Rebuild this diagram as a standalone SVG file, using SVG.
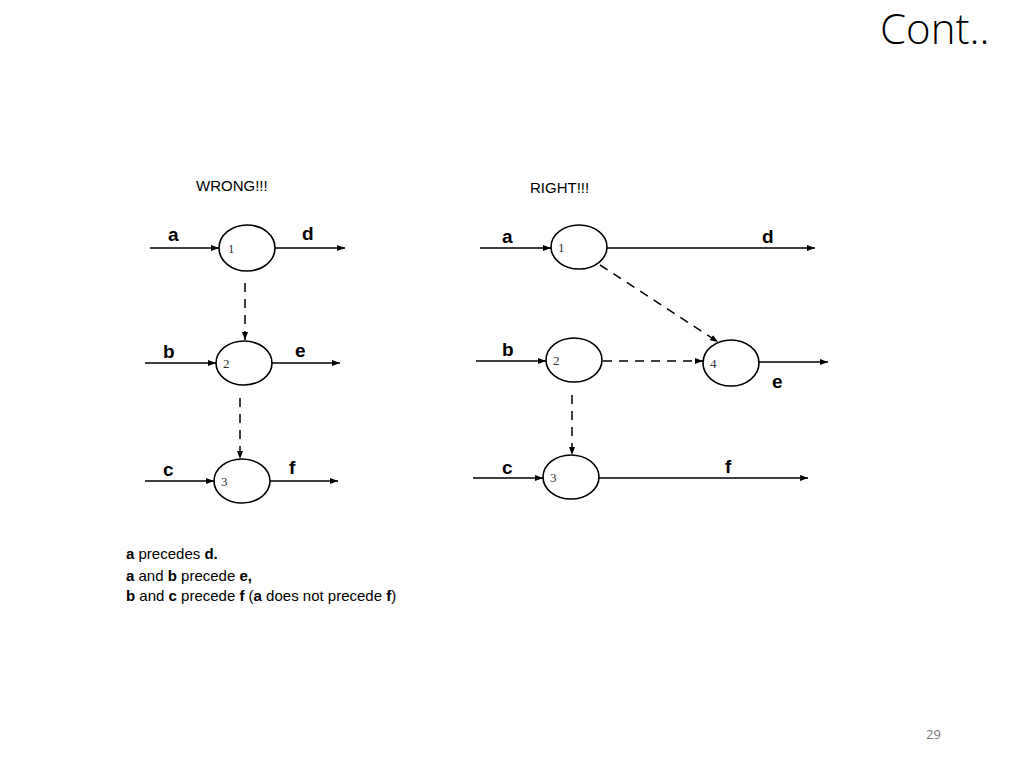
<svg xmlns="http://www.w3.org/2000/svg" width="1024" height="768" viewBox="0 0 1024 768">
<defs>
<marker id="ah" markerWidth="8" markerHeight="6" refX="8" refY="3" orient="auto" markerUnits="userSpaceOnUse"><path d="M0,0 L8,3 L0,6 Z" fill="#000"/></marker>
<style>
.n{fill:#fff;stroke:#000;stroke-width:1.6}
.num{font-family:"Liberation Serif",serif;font-size:13px;fill:#333}
.lbl{font-family:"Liberation Sans",Arial,sans-serif;font-weight:bold;font-size:19px;fill:#000}
.t{font-family:"Liberation Sans",Arial,sans-serif;font-size:15px;fill:#000}
.s{stroke:#000;stroke-width:1.5;fill:none;marker-end:url(#ah)}
.d{stroke:#000;stroke-width:1.5;fill:none;stroke-dasharray:9,7;marker-end:url(#ah)}
</style>
</defs>
<rect width="1024" height="768" fill="#fff"/>
<text x="880" y="44" font-family="'Open Sans','Noto Sans',sans-serif" font-size="42" font-weight="300" fill="#000">Cont..</text>
<text x="926" y="739" font-family="'Open Sans','Noto Sans',sans-serif" font-size="13" fill="#777">29</text>
<text x="196" y="191" class="t">WRONG!!!</text>
<text x="530" y="193" class="t">RIGHT!!!</text>
<g id="connectors">
<line class="s" x1="150" y1="248" x2="219" y2="248"/>
<line class="s" x1="275" y1="248" x2="345" y2="248"/>
<line class="s" x1="145" y1="363" x2="216" y2="363"/>
<line class="s" x1="272" y1="363" x2="340" y2="363"/>
<line class="s" x1="145" y1="481" x2="214" y2="481"/>
<line class="s" x1="270" y1="481" x2="338" y2="481"/>
<line class="d" x1="245" y1="283" x2="245" y2="340"/>
<line class="d" x1="240" y1="398" x2="240" y2="459"/>
<line class="s" x1="480" y1="248" x2="551" y2="248"/>
<line class="s" x1="607" y1="248" x2="815" y2="248"/>
<line class="s" x1="476" y1="361" x2="546" y2="361"/>
<line class="d" x1="603" y1="361" x2="703" y2="361"/>
<line class="d" x1="600" y1="265" x2="718" y2="342"/>
<line class="s" x1="759" y1="362" x2="828" y2="362"/>
<line class="s" x1="473" y1="478" x2="543" y2="478"/>
<line class="s" x1="599" y1="478" x2="808" y2="478"/>
<line class="d" x1="572" y1="395" x2="572" y2="455"/>
</g>
<g id="w1"><ellipse class="n" cx="247" cy="248" rx="28" ry="23"/><text class="num" x="228" y="253">1</text></g>
<g id="w2"><ellipse class="n" cx="244" cy="363" rx="28" ry="22"/><text class="num" x="223" y="368">2</text></g>
<g id="w3"><ellipse class="n" cx="242" cy="481" rx="28" ry="22"/><text class="num" x="221" y="486">3</text></g>
<g id="r1"><ellipse class="n" cx="579" cy="247" rx="28" ry="22"/><text class="num" x="558" y="252">1</text></g>
<g id="r2"><ellipse class="n" cx="574" cy="360" rx="28" ry="22"/><text class="num" x="553" y="365">2</text></g>
<g id="r4"><ellipse class="n" cx="731" cy="363" rx="28" ry="23"/><text class="num" x="710" y="368">4</text></g>
<g id="r3"><ellipse class="n" cx="571" cy="477" rx="28" ry="22"/><text class="num" x="550" y="482">3</text></g>
<g id="labels">
<text class="lbl" x="168" y="241">a</text><text class="lbl" x="302" y="240">d</text>
<text class="lbl" x="163" y="358">b</text><text class="lbl" x="295" y="357">e</text>
<text class="lbl" x="163" y="476">c</text><text class="lbl" x="289" y="474">f</text>
<text class="lbl" x="502" y="243">a</text><text class="lbl" x="762" y="243">d</text>
<text class="lbl" x="502" y="356">b</text><text class="lbl" x="772" y="388">e</text>
<text class="lbl" x="502" y="474">c</text><text class="lbl" x="725" y="473">f</text>
</g>
<text class="t" x="126" y="559"><tspan font-weight="bold">a</tspan> precedes <tspan font-weight="bold">d.</tspan></text>
<text class="t" x="126" y="581"><tspan font-weight="bold">a</tspan> and <tspan font-weight="bold">b</tspan> precede <tspan font-weight="bold">e,</tspan></text>
<text class="t" x="126" y="601"><tspan font-weight="bold">b</tspan> and <tspan font-weight="bold">c</tspan> precede <tspan font-weight="bold">f</tspan> (<tspan font-weight="bold">a</tspan> does not precede <tspan font-weight="bold">f</tspan>)</text>
</svg>
